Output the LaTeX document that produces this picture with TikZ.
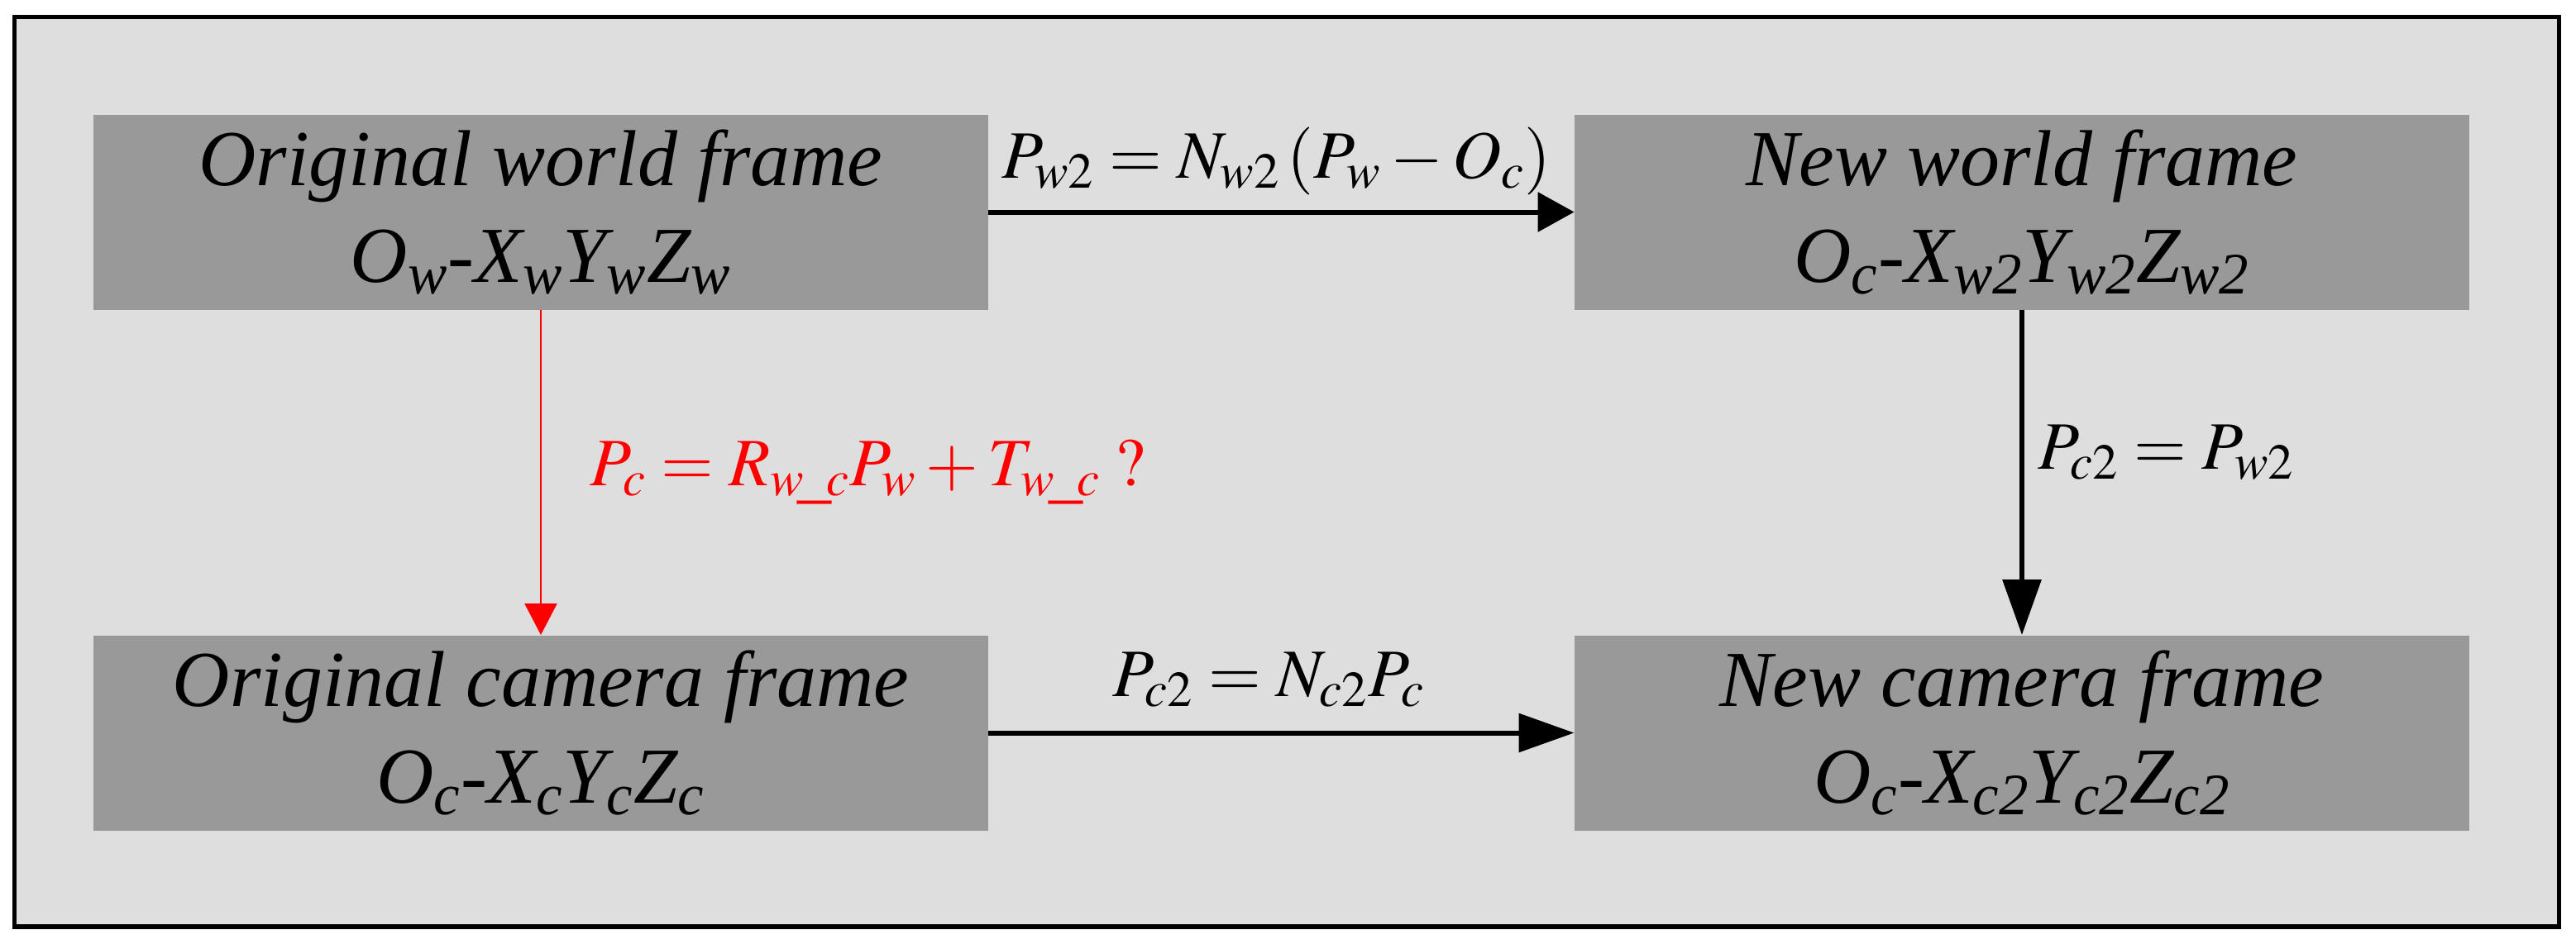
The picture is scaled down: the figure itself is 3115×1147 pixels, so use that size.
\documentclass[tikz,border=0pt]{standalone}
\usepackage{mathptmx}
\usepackage[no-math]{fontspec}
\setmainfont{Liberation Serif}
\usetikzlibrary{arrows.meta}
\definecolor{bgc}{RGB}{222,222,222}
\definecolor{boxc}{RGB}{153,153,153}
\tikzset{
  framebox/.style={fill=boxc, minimum width=541pt, minimum height=118pt, inner sep=0pt,
    align=center, font=\fontsize{48}{58.5}\selectfont\itshape},
  conn/.style={line width=3pt, -{Triangle[length=33.5pt,width=23pt]}},
  redconn/.style={red, line width=1.15pt, -{Triangle[length=19pt,width=19.5pt]}},
  lbl/.style={font=\fontsize{41}{48}\selectfont, inner sep=0pt},
}
\begin{document}
\begin{tikzpicture}[x=0.5pt,y=-0.5pt]
\useasboundingbox[fill=white] (0,0) rectangle (3115,1147);
\draw[line width=2.75pt, fill=bgc] (17.5,20.5) rectangle (3094.5,1121);
\node[framebox] (owf) at (654,256.5) {Original world frame\\O\textsubscript{w}-X\textsubscript{w}Y\textsubscript{w}Z\textsubscript{w}};
\node[framebox] (nwf) at (2445,256.5) {New world frame\\O\textsubscript{c}-X\textsubscript{w2}Y\textsubscript{w2}Z\textsubscript{w2}};
\node[framebox] (ocf) at (654,886.5) {Original camera frame\\O\textsubscript{c}-X\textsubscript{c}Y\textsubscript{c}Z\textsubscript{c}};
\node[framebox] (ncf) at (2445,886.5) {New camera frame\\O\textsubscript{c}-X\textsubscript{c2}Y\textsubscript{c2}Z\textsubscript{c2}};
\draw[conn, -{Triangle[length=22pt,width=23.5pt]}] (owf) -- node[lbl, above=9pt, xshift=-3pt] (l1) {$P_{w2} = N_{w2}\left(P_w - O_c\right)$} (nwf);
\draw[conn] (ocf) -- node[lbl, above=14pt, xshift=-8pt] (l2) {$P_{c2} = N_{c2}P_c$} (ncf);
\draw[conn] (nwf) -- node[lbl, right=8pt, yshift=12pt] (l3) {$P_{c2} = P_{w2}$} (ncf);
\draw[redconn] (owf) -- node[lbl, red, right=29pt, yshift=0pt] (l4) {$P_c = R_{w\mkern-2mu\_\mkern-2mu c}P_w + T_{w\mkern-2mu\_\mkern-2mu c}\;?$} (ocf);
\end{tikzpicture}
\end{document}
